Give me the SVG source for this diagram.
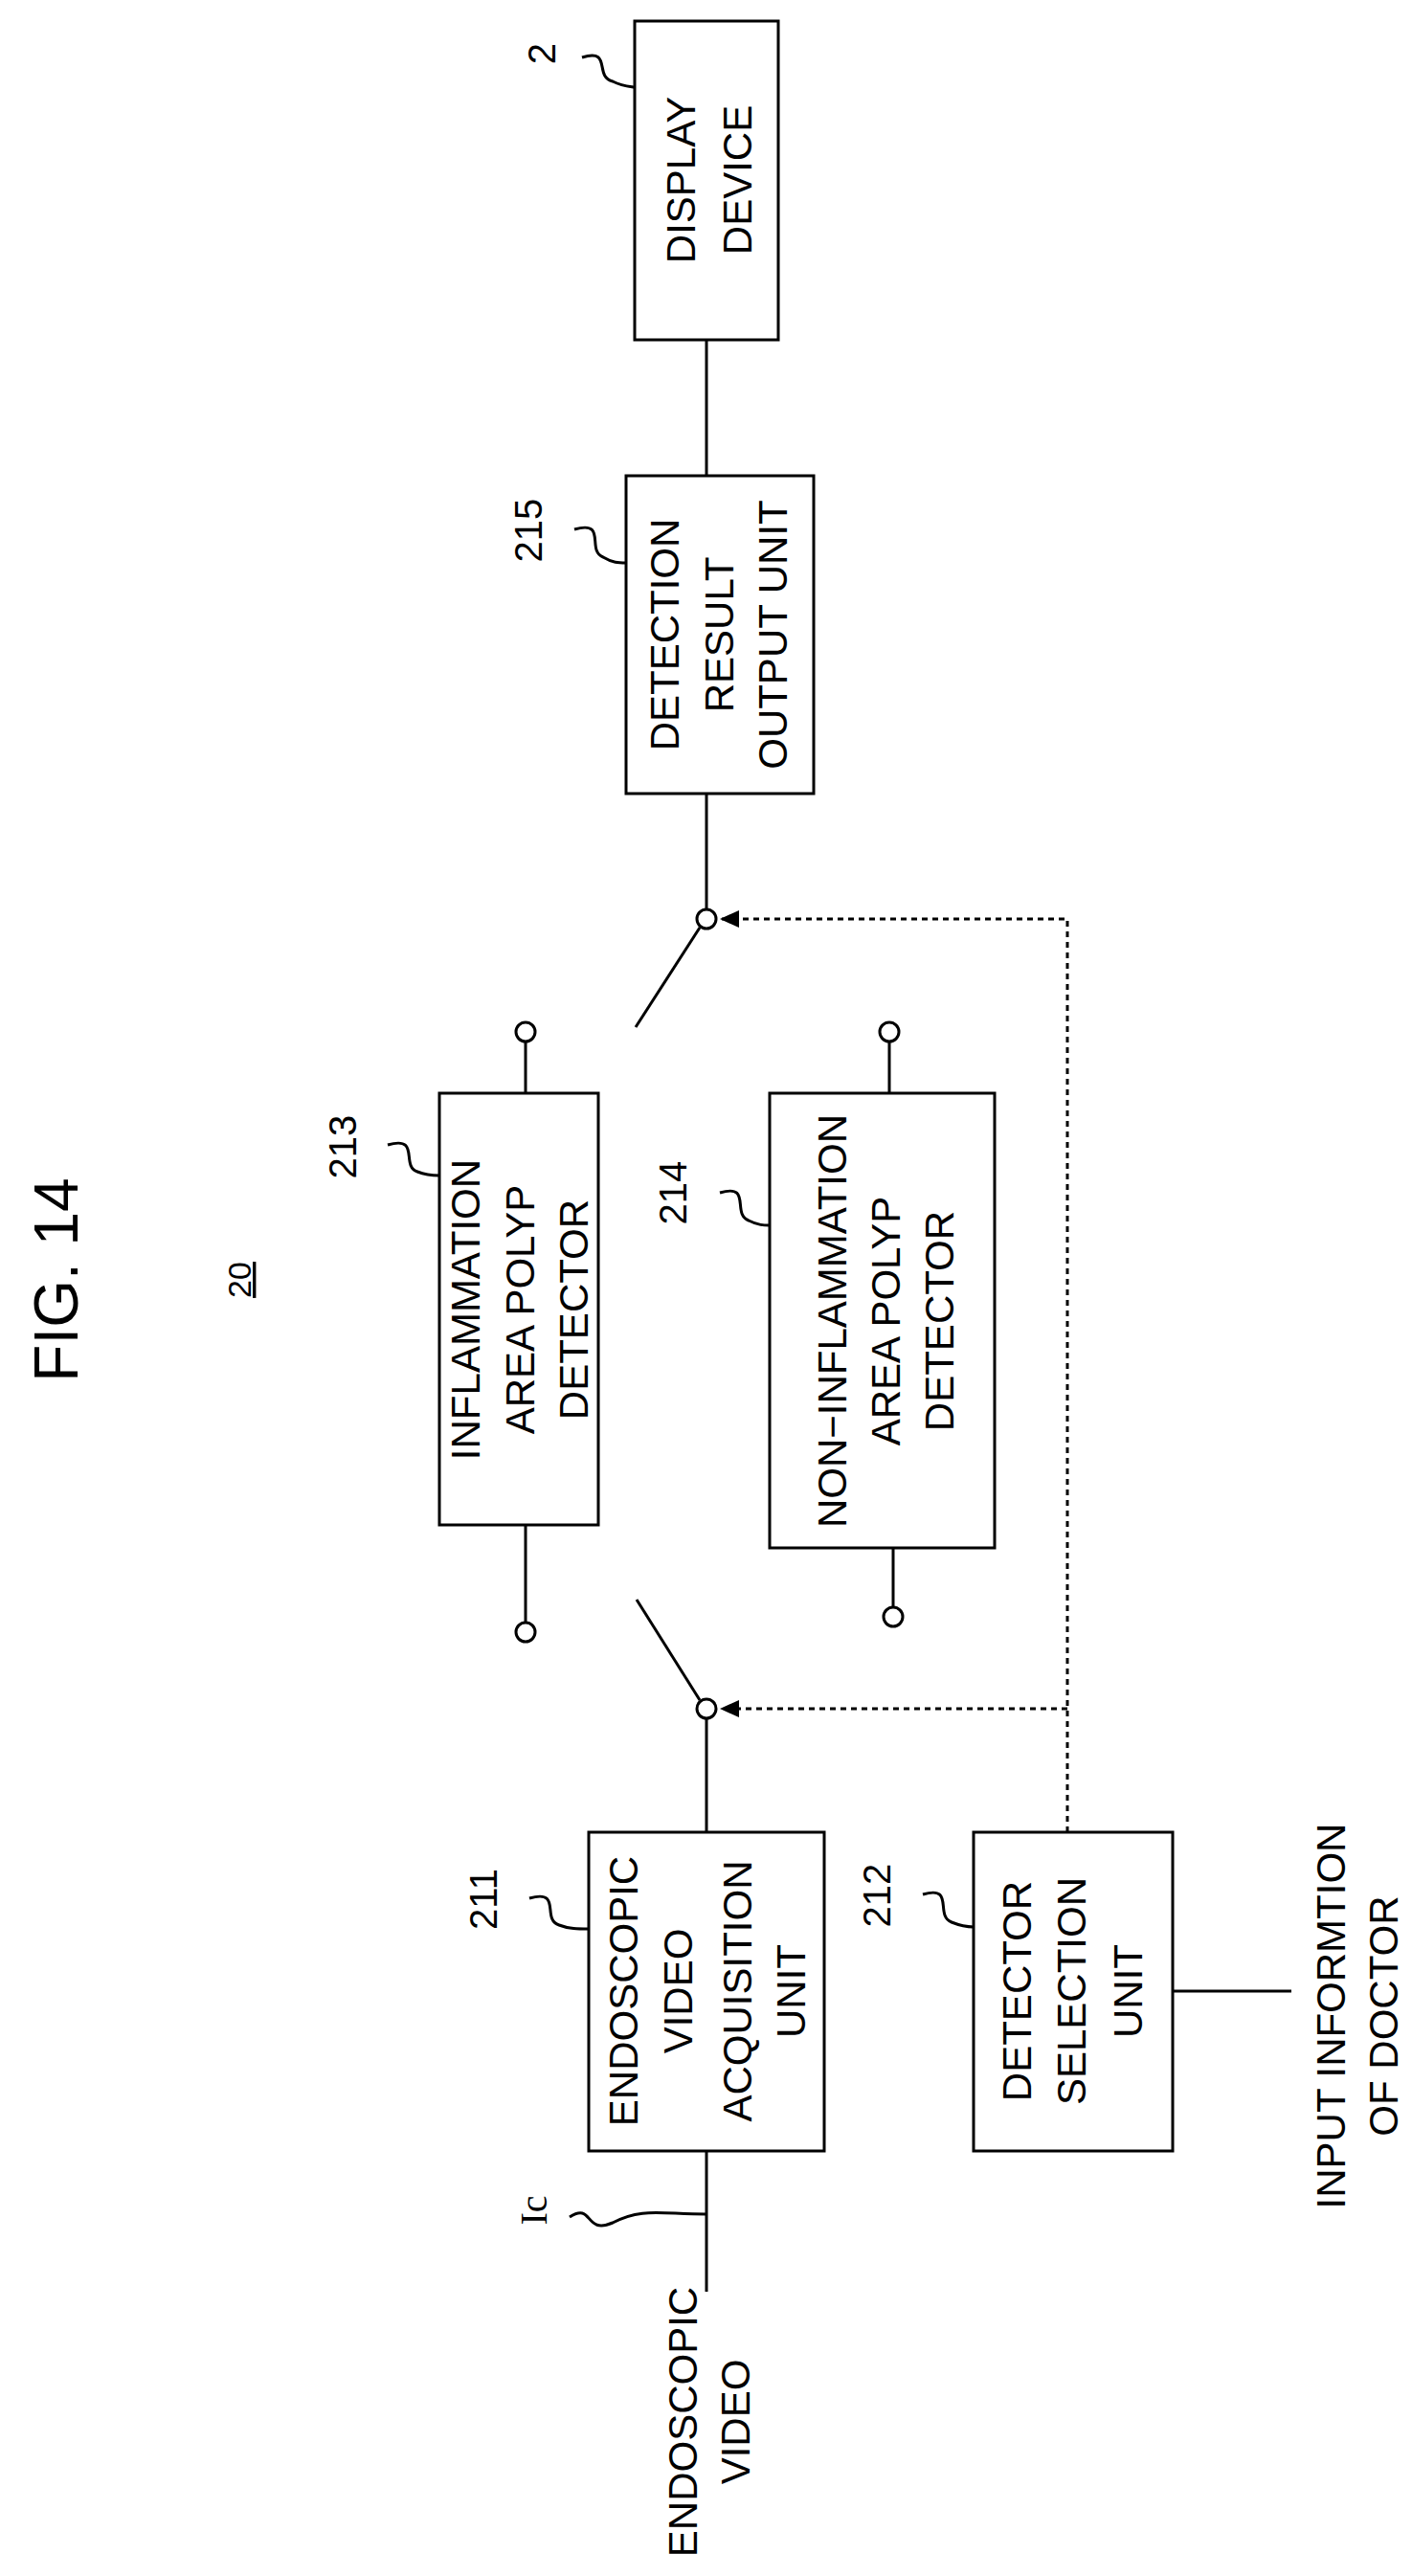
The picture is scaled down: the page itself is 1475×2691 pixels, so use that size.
<svg xmlns="http://www.w3.org/2000/svg" width="1475" height="2691" viewBox="0 0 1475 2691">
<style>
.b{fill:#fff;stroke:#000;stroke-width:3}
.l{fill:none;stroke:#000;stroke-width:3}
.d{fill:none;stroke:#000;stroke-width:3;stroke-dasharray:6 5}
.c{fill:#fff;stroke:#000;stroke-width:3}
text{font-family:"Liberation Sans",Arial,sans-serif;font-size:42px;text-anchor:middle}
.n{font-size:40px}
</style>
<defs><marker id="a" markerWidth="22" markerHeight="22" refX="20" refY="11" orient="auto" markerUnits="userSpaceOnUse" viewBox="0 0 22 22"><path d="M0,2L20,11L0,20z"/></marker></defs>
<text x="81" y="1337" transform="rotate(-90 81 1337)" style="font-size:64px">FIG. 14</text>
<text x="262" y="1337" transform="rotate(-90 262 1337)" style="font-size:34px;text-decoration:underline">20</text>
<g id="connectors">
<line class="l" x1="738" y1="355" x2="738" y2="497"/>
<line class="l" x1="738" y1="829" x2="738" y2="949"/>
<line class="l" x1="731" y1="969" x2="664" y2="1073"/>
<line class="l" x1="549" y1="1142" x2="549" y2="1089"/>
<line class="l" x1="929" y1="1142" x2="929" y2="1089"/>
<line class="l" x1="549" y1="1593" x2="549" y2="1694"/>
<line class="l" x1="933" y1="1617" x2="933" y2="1678"/>
<line class="l" x1="731" y1="1776" x2="665" y2="1671"/>
<line class="l" x1="738" y1="1796" x2="738" y2="1914"/>
<line class="l" x1="738" y1="2247" x2="738" y2="2394"/>
<line class="l" x1="1225" y1="2080" x2="1349" y2="2080"/>
<path class="d" d="M1115,1914V960H752" marker-end="url(#a)"/>
<path class="d" d="M1115,1785H752" marker-end="url(#a)"/>
<circle class="c" cx="738" cy="960" r="10"/>
<circle class="c" cx="738" cy="1785" r="10"/>
<circle class="c" cx="549" cy="1078" r="10"/>
<circle class="c" cx="929" cy="1078" r="10"/>
<circle class="c" cx="549" cy="1705" r="10"/>
<circle class="c" cx="933" cy="1689" r="10"/>
</g>
<g id="n2"><rect class="b" x="663" y="22" width="150" height="333"/>
<text transform="rotate(-90 726 188)" x="726" y="188">DISPLAY</text><text transform="rotate(-90 785 188)" x="785" y="188">DEVICE</text>
<text class="n" transform="rotate(-90 580 56)" x="580" y="56">2</text>
<path class="l" d="M608,60C640,50 620,80 640,85C650,90 655,90 663,91"/></g>
<g id="n215"><rect class="b" x="654" y="497" width="196" height="332"/>
<text transform="rotate(-90 709 663)" x="709" y="663">DETECTION</text><text transform="rotate(-90 766 663)" x="766" y="663">RESULT</text><text transform="rotate(-90 822 663)" x="822" y="663">OUTPUT UNIT</text>
<text class="n" transform="rotate(-90 566 554)" x="566" y="554">215</text>
<path class="l" d="M600,553C635,543 612,575 630,582C640,588 646,588 654,588"/></g>
<g id="n213"><rect class="b" x="459" y="1142" width="166" height="451"/>
<text transform="rotate(-90 501 1368)" x="501" y="1368">INFLAMMATION</text><text transform="rotate(-90 558 1368)" x="558" y="1368">AREA POLYP</text><text transform="rotate(-90 614 1368)" x="614" y="1368">DETECTOR</text>
<text class="n" transform="rotate(-90 372 1198)" x="372" y="1198">213</text>
<path class="l" d="M405,1196C440,1186 418,1218 436,1224C446,1228 452,1228 459,1228"/></g>
<g id="n214"><rect class="b" x="804" y="1142" width="235" height="475"/>
<text transform="rotate(-90 884 1380)" x="884" y="1380">NON−INFLAMMATION</text><text transform="rotate(-90 940 1380)" x="940" y="1380">AREA POLYP</text><text transform="rotate(-90 996 1380)" x="996" y="1380">DETECTOR</text>
<text class="n" transform="rotate(-90 717 1246)" x="717" y="1246">214</text>
<path class="l" d="M752,1246C786,1236 764,1268 782,1275C792,1280 798,1280 804,1280"/></g>
<g id="n211"><rect class="b" x="615" y="1914" width="246" height="333"/>
<text transform="rotate(-90 666 2080)" x="666" y="2080">ENDOSCOPIC</text><text transform="rotate(-90 723 2080)" x="723" y="2080">VIDEO</text><text transform="rotate(-90 785 2080)" x="785" y="2080">ACQUISITION</text><text transform="rotate(-90 841 2080)" x="841" y="2080">UNIT</text>
<text class="n" transform="rotate(-90 519 1984)" x="519" y="1984">211</text>
<path class="l" d="M553,1983C588,1973 565,2005 584,2011C594,2015 604,2015 615,2015"/></g>
<g id="n212"><rect class="b" x="1017" y="1914" width="208" height="333"/>
<text transform="rotate(-90 1077 2080)" x="1077" y="2080">DETECTOR</text><text transform="rotate(-90 1134 2080)" x="1134" y="2080">SELECTION</text><text transform="rotate(-90 1193 2080)" x="1193" y="2080">UNIT</text>
<text class="n" transform="rotate(-90 930 1980)" x="930" y="1980">212</text>
<path class="l" d="M964,1979C998,1969 976,2001 994,2008C1004,2012 1010,2013 1017,2013"/></g>
<g id="labels">
<text transform="rotate(-90 1405 2106)" x="1405" y="2106">INPUT INFORMTION</text><text transform="rotate(-90 1460 2106)" x="1460" y="2106">OF DOCTOR</text>
<text transform="rotate(-90 728 2530)" x="728" y="2530">ENDOSCOPIC</text><text transform="rotate(-90 783 2530)" x="783" y="2530">VIDEO</text>
<text transform="rotate(-90 571 2309)" x="571" y="2309" style="font-family:'Liberation Serif',serif;font-size:40px">Ic</text>
<path class="l" d="M595,2316C620,2300 610,2335 640,2322C670,2306 690,2313 738,2313"/>
</g>
</svg>
